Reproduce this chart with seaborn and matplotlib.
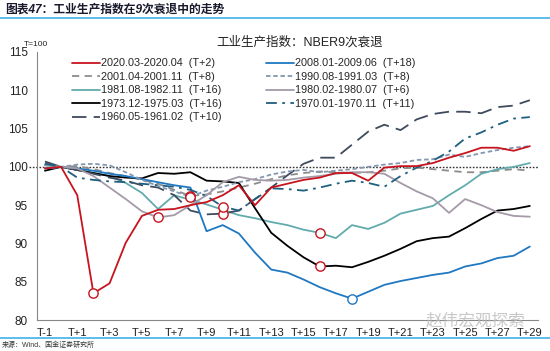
import numpy as np
import pandas as pd
import seaborn as sns
import matplotlib.pyplot as plt

# periods T-1 .. T+29 (T = 100)
periods = ['T-1', 'T'] + [f'T+{i}' for i in range(1, 30)]

ip_2020 = [99.8, 100, 96.3, 83.5, 84.8, 90.1, 93.6, 94.4, 94.5, 95.0, 95.4, 96.3, 97.6, 95.0, 97.3, 97.8,
           98.3, 98.6, 99.2, 99.2, 98.2, 99.9, 100.1, 100.1, 100.5, 101.2, 101.8, 102.5, 102.5, 102.1, 102.7]
ip_2001 = [100.5, 100, 100.1, 99.7, 99.2, 98.8, 98.3, 97.8, 97.0, 96.2, 96.4, 96.8, 97.3, 97.8, 98.4, 98.9,
           99.2, 99.4, 99.3, 99.2, 99.3, 99.5, 99.8, 99.9, 99.7, 99.5, 99.3, 99.3, 99.5, 99.7, 99.5]
ip_1981 = [100.2, 100, 99.6, 99.2, 98.8, 97.9, 96.6, 94.5, 96.3, 95.7, 95.1, 94.4, 93.7, 93.3, 92.8, 92.4,
           91.8, 91.4, 90.7, 92.4, 91.9, 92.7, 93.9, 94.4, 94.9, 96.3, 97.6, 99.1, 99.7, 100.0, 100.5]
ip_1973 = [99.5, 100, 99.6, 99.2, 98.8, 98.6, 98.5, 99.2, 99.1, 99.3, 98.2, 98.1, 97.9, 94.6, 91.4, 89.7,
           88.2, 87.0, 87.1, 86.9, 87.6, 88.4, 89.3, 90.3, 90.7, 90.9, 92.0, 93.2, 94.3, 94.5, 94.9]
ip_1960 = [100.7, 100, 99.6, 99.1, 98.6, 98.2, 97.6, 97.3, 96.3, 94.3, 93.8, 93.9, 94.3, 95.8, 97.3, 98.9,
           100.4, 101.2, 101.2, 102.9, 104.6, 105.5, 104.8, 106.2, 106.9, 107.2, 107.2, 107.0, 107.8, 108.0, 108.7]
ip_2008 = [99.8, 100, 99.8, 99.5, 99.1, 98.8, 98.4, 98.0, 97.6, 97.3, 91.6, 92.4, 91.3, 88.8, 86.6, 86.2,
           85.3, 84.3, 83.5, 82.8, 83.7, 84.6, 85.1, 85.5, 85.9, 86.2, 87.0, 87.4, 88.1, 88.4, 89.6]
ip_1990 = [99.8, 100, 100.3, 100.4, 100.2, 99.3, 98.3, 97.5, 96.8, 96.1, 96.9, 97.4, 98.0, 98.4, 99.0, 99.4,
           99.6, 99.3, 99.5, 99.7, 100.0, 100.3, 100.5, 100.9, 101.0, 101.6, 101.3, 101.8, 102.2, 102.5, 102.7]
ip_1980 = [100.3, 100, 99.8, 98.8, 97.3, 95.8, 94.2, 93.4, 93.7, 95.0, 96.3, 98.0, 98.7, 98.3, 98.2, 98.3,
           98.6, 98.8, 99.1, 99.3, 99.3, 99.1, 97.9, 96.8, 95.9, 94.0, 95.8, 95.0, 94.1, 93.6, 93.5]
ip_1970 = [100.4, 100, 98.6, 98.3, 98.1, 98.0, 97.8, 97.6, 97.4, 97.0, 96.2, 94.8, 94.3, 95.8, 97.2, 97.1,
           96.9, 97.3, 97.8, 98.2, 97.9, 97.4, 98.8, 99.9, 100.8, 102.0, 103.7, 104.5, 105.5, 106.3, 106.5]

labels = ['2020.03-2020.04  (T+2)', '2001.04-2001.11  (T+8)', '1981.08-1982.11  (T+16)',
          '1973.12-1975.03  (T+16)', '1960.05-1961.02  (T+10)', '2008.01-2009.06  (T+18)',
          '1990.08-1991.03  (T+8)', '1980.02-1980.07  (T+6)', '1970.01-1970.11  (T+11)']
series = [ip_2020, ip_2001, ip_1981, ip_1973, ip_1960, ip_2008, ip_1990, ip_1980, ip_1970]
# index of the marked trough in each series
trough_idx = [3, 9, 17, 17, 11, 19, 9, 7, 11]

colors = ['#c8141e', '#8c8c8c', '#62abad', '#000000', '#3f4a5c', '#1f78c1', '#8497b0', '#a49aa8', '#1f5f7f']
dashes = [None, (4, 3), None, None, (8, 4), None, (2.5, 1.5), None, (6, 3, 1.5, 3)]

sns.set_style('white')
plt.rcParams['font.family'] = ['Liberation Sans', 'Noto Sans CJK SC', 'DejaVu Sans']

fig = plt.figure(figsize=(5.5, 3.51), dpi=100)
ax = fig.add_axes([0.067, 0.088, 0.911, 0.764])

x = np.arange(len(periods))
for vals, lab, c, d in zip(series, labels, colors, dashes):
    kw = {} if d is None else {'dashes': d}
    z = 5 if c == '#c8141e' else 3
    sns.lineplot(x=x, y=vals, ax=ax, color=c, linewidth=1.3, label=lab, zorder=z, **kw)

ax.axhline(100, color='#333333', linestyle=(0, (1.2, 1.2)), linewidth=1.0, zorder=2,
           xmin=-0.015, clip_on=False)

# trough markers
for vals, i, c in zip(series, trough_idx, colors):
    edge = '#1f78c1' if c == '#1f78c1' else '#c8141e'
    ax.scatter([x[i]], [vals[i]], s=45, facecolor='white', edgecolor=edge, linewidth=1.0, zorder=6)

ax.set_xlim(-0.5, len(periods) - 0.5)
ax.set_ylim(80, 115)
ax.set_yticks(range(80, 116, 5))
ax.set_xticks(x[::2])
ax.set_xticklabels(periods[::2])
ax.set_xticks(np.arange(-0.5, len(periods), 2), minor=True)
ax.tick_params(axis='x', which='major', length=0, labelsize=8, colors='#222222', pad=6)
ax.tick_params(axis='x', which='minor', length=3, color='#888888', direction='out')
ax.tick_params(axis='y', length=3, direction='out', labelsize=8.5, colors='#888888', labelcolor='#222222')
for s in ['top', 'right']:
    ax.spines[s].set_visible(False)
for s in ['left', 'bottom']:
    ax.spines[s].set_color('#888888')
    ax.spines[s].set_linewidth(0.8)
ax.set_xlabel('')
ax.set_ylabel('')

ax.legend(loc='upper left', bbox_to_anchor=(0.05, 1.012), ncol=2, frameon=False, fontsize=7.8,
          handlelength=2.6, handletextpad=0.1, columnspacing=4.1, labelspacing=0.32)

fig.text(0.545, 0.878, '工业生产指数：NBER9次衰退', fontsize=9, ha='center', va='center', color='#222222')
fig.text(0.066, 0.873, 'T=100', fontsize=6, ha='center', va='center', color='#222222')

# header and footer
fig.text(0.01, 0.972, '图表47：工业生产指数在9次衰退中的走势', fontsize=8.5, fontweight='bold',
         style='italic', ha='left', va='center', color='#1a1a2e')
fig.add_artist(plt.Line2D([0, 1], [0.948, 0.948], color='#3fb2e6', linewidth=1.2))
fig.add_artist(plt.Line2D([0, 1], [0.037, 0.037], color='#3fb2e6', linewidth=1.2))
fig.text(0.004, 0.016, '来源：Wind、国金证券研究所', fontsize=5, ha='left', va='center', color='#333333')
fig.text(0.865, 0.085, '赵伟宏观探索', fontsize=12, ha='center', va='center', color='#bbbbbb', alpha=0.8)

fig.savefig('out.png', dpi=100)
